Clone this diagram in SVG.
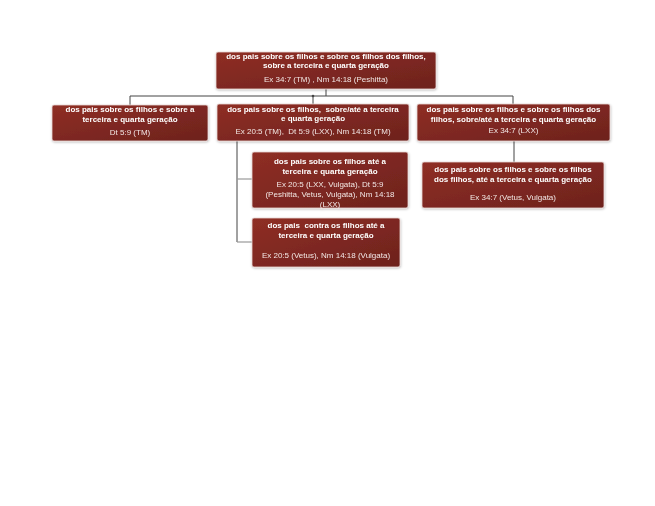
<svg xmlns="http://www.w3.org/2000/svg" width="655" height="506" viewBox="0 0 655 506">
<style>
.box{fill:url(#g);stroke:#e8d8d6;stroke-width:0.8}
.b{font-family:"Liberation Sans",Arial,sans-serif;font-size:8px;font-weight:bold;fill:#ffffff;text-anchor:middle}
.r{font-family:"Liberation Sans",Arial,sans-serif;font-size:8px;fill:#f2e6e4;text-anchor:middle}
.c{fill:none;stroke:#444444;stroke-width:1}
.c2{fill:none;stroke:#999999;stroke-width:1.2}
</style>
<defs>
<linearGradient id="g" x1="0" y1="0" x2="1" y2="1">
<stop offset="0" stop-color="#8f2e25"/>
<stop offset="1" stop-color="#6d221d"/>
</linearGradient>
<filter id="sh" x="-5%" y="-10%" width="110%" height="130%">
<feDropShadow dx="0.5" dy="1" stdDeviation="0.8" flood-color="#000" flood-opacity="0.25"/>
</filter>
</defs>
<rect width="655" height="506" fill="#ffffff"/>
<g id="connectors">
<path class="c" d="M326 89 V96 H130 V105"/>
<path class="c" d="M326 96 H513 V104"/>
<path class="c" d="M313 96 V104"/>
<circle cx="313" cy="96" r="1.3" fill="#444"/>
<path class="c" d="M514 141 V162"/>
<path class="c" d="M237 141 V242"/>
<path class="c2" d="M237 179 H252"/>
<path class="c2" d="M237 242 H252"/>
</g>
<g id="n0" filter="url(#sh)">
<rect class="box" x="216" y="52" width="220" height="37" rx="2"/>
<text class="b" x="326" y="58.5">dos pais sobre os filhos e sobre os filhos dos filhos,</text>
<text class="b" x="326" y="68">sobre a terceira e quarta geração</text>
<text class="r" x="326" y="81.5">Ex 34:7 (TM) , Nm 14:18 (Peshitta)</text>
</g>
<g id="n1" filter="url(#sh)">
<rect class="box" x="52" y="105" width="156" height="36" rx="2"/>
<text class="b" x="130" y="112">dos pais sobre os filhos e sobre a</text>
<text class="b" x="130" y="122">terceira e quarta geração</text>
<text class="r" x="130" y="134.5">Dt 5:9 (TM)</text>
</g>
<g id="n2" filter="url(#sh)">
<rect class="box" x="217" y="104" width="192" height="37" rx="2"/>
<text class="b" x="313" y="111.5" xml:space="preserve">dos pais sobre os filhos,  sobre/até a terceira</text>
<text class="b" x="313" y="121">e quarta geração</text>
<text class="r" x="313" y="134" xml:space="preserve">Ex 20:5 (TM),  Dt 5:9 (LXX), Nm 14:18 (TM)</text>
</g>
<g id="n3" filter="url(#sh)">
<rect class="box" x="417" y="104" width="193" height="37" rx="2"/>
<text class="b" x="513.5" y="112">dos pais sobre os filhos e sobre os filhos dos</text>
<text class="b" x="513.5" y="121.5">filhos, sobre/até a terceira e quarta geração</text>
<text class="r" x="513.5" y="133">Ex 34:7 (LXX)</text>
</g>
<g id="n4" filter="url(#sh)">
<rect class="box" x="252" y="152" width="156" height="56" rx="2"/>
<text class="b" x="330" y="164">dos pais sobre os filhos até a</text>
<text class="b" x="330" y="174">terceira e quarta geração</text>
<text class="r" x="330" y="187">Ex 20:5 (LXX, Vulgata), Dt 5:9</text>
<text class="r" x="330" y="197">(Peshitta, Vetus, Vulgata), Nm 14:18</text>
<text class="r" x="330" y="207">(LXX)</text>
</g>
<g id="n5" filter="url(#sh)">
<rect class="box" x="252" y="218" width="148" height="49" rx="2"/>
<text class="b" x="326" y="227.5" xml:space="preserve">dos pais  contra os filhos até a</text>
<text class="b" x="326" y="237.5">terceira e quarta geração</text>
<text class="r" x="326" y="258">Ex 20:5 (Vetus), Nm 14:18 (Vulgata)</text>
</g>
<g id="n6" filter="url(#sh)">
<rect class="box" x="422" y="162" width="182" height="46" rx="2"/>
<text class="b" x="513" y="171.5">dos pais sobre os filhos e sobre os filhos</text>
<text class="b" x="513" y="181.5">dos filhos, até a terceira e quarta geração</text>
<text class="r" x="513" y="199.5">Ex 34:7 (Vetus, Vulgata)</text>
</g>
</svg>
